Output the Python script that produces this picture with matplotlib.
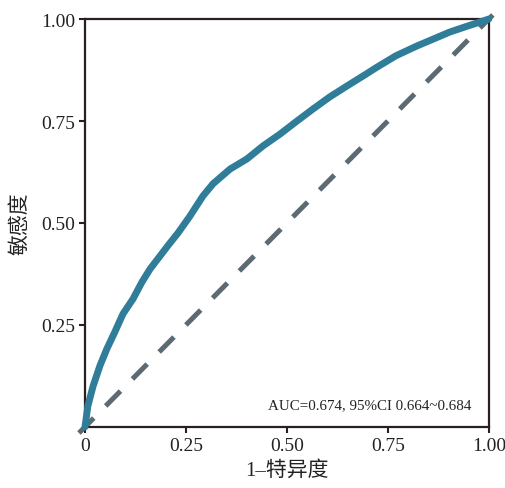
import matplotlib
matplotlib.use("Agg")
import matplotlib.pyplot as plt

plt.rcParams['font.family'] = ['Liberation Serif', 'Noto Sans CJK SC', 'DejaVu Sans']

# ROC curve points (1-specificity, sensitivity)
fpr = [0, 0.007, 0.02, 0.037, 0.054, 0.074, 0.094, 0.119, 0.141, 0.161, 0.185,
       0.205, 0.23, 0.260, 0.292, 0.317, 0.359, 0.401, 0.441, 0.483, 0.525,
       0.564, 0.606, 0.649, 0.688, 0.723, 0.77, 0.822, 0.865, 0.903, 0.945,
       0.985, 1]
tpr = [0, 0.051, 0.100, 0.150, 0.191, 0.233, 0.277, 0.314, 0.355, 0.387, 0.418,
       0.444, 0.475, 0.517, 0.566, 0.596, 0.632, 0.657, 0.689, 0.718, 0.750,
       0.779, 0.809, 0.836, 0.860, 0.882, 0.91, 0.934, 0.952, 0.968, 0.982,
       0.995, 1]
diag = [-0.015, 1.01]

xticks = [0, 0.25, 0.5, 0.75, 1.0]
xticklabels = ['0', '0.25', '0.50', '0.75', '1.00']
yticks = [0.25, 0.5, 0.75, 1.0]
yticklabels = ['0.25', '0.50', '0.75', '1.00']

auc_text = 'AUC=0.674, 95%CI 0.664~0.684'
xlabel = '1–特异度'
ylabel = '敏感度'

fig = plt.figure(figsize=(5.06, 4.89), dpi=100)
ax = fig.add_axes([0.168, 0.125, 0.798, 0.834])

ax.plot(diag, diag, color='#5b6a73', lw=3.6, dashes=(4.2, 3.4), clip_on=False, zorder=2)
ax.plot(fpr, tpr, color='#2f7d99', lw=5.0, clip_on=False, zorder=3,
        solid_capstyle='round', solid_joinstyle='round')

ax.set_xlim(0, 1)
ax.set_ylim(0, 1)
ax.set_xticks(xticks)
ax.set_xticklabels(xticklabels)
ax.set_yticks(yticks)
ax.set_yticklabels(yticklabels)
ax.tick_params(direction='out', length=4, width=1.5, color='#2a1f1f', labelsize=14,
               labelcolor='#222222', pad=3)
for s in ax.spines.values():
    s.set_linewidth(1.6)
    s.set_color('#2a1f1f')

ax.set_xlabel(xlabel, fontsize=15, color='#222222', labelpad=5)
ax.set_ylabel(ylabel, fontsize=15, color='#222222', labelpad=8)

ax.text(0.958, 0.054, auc_text, ha='right', va='center', fontsize=10.8, color='#222222',
        transform=ax.transAxes)

fig.savefig('out.png', dpi=100)
